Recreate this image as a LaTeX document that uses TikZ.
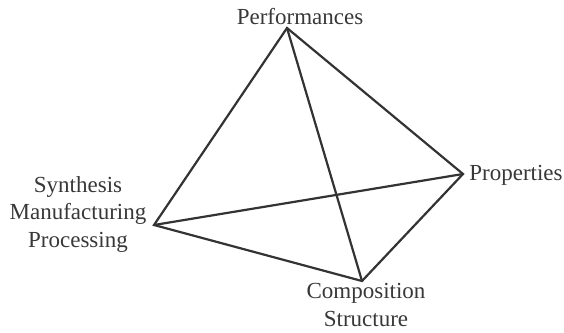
\documentclass[tikz,border=0pt]{standalone}
\usepackage{fontspec}
\setmainfont{Liberation Serif}
\begin{document}
\begin{tikzpicture}[x=1pt,y=-1pt,
  edge/.style={draw=black!80, line width=2.2pt, line join=miter},
  lbl/.style={text=black!78, font=\fontsize{23}{27.5}\selectfont, inner sep=0pt, align=center}]
\useasboundingbox (0,0) rectangle (564,332);
\coordinate (T) at (287,28);
\coordinate (R) at (463,174);
\coordinate (L) at (154,225);
\coordinate (B) at (362,281);
\draw[edge] (T) -- (L) -- (B) -- (R) -- cycle;
\draw[edge] (T) -- (B);
\draw[edge] (L) -- (R);
\node[lbl] (perf) at (300,17) {Performances};
\node[lbl] (prop) at (516,175) {Properties};
\node[lbl] (synth) at (78,214) {Synthesis\\Manufacturing\\Processing};
\node[lbl] (comp) at (366,305) {Composition\\Structure};
\end{tikzpicture}
\end{document}
